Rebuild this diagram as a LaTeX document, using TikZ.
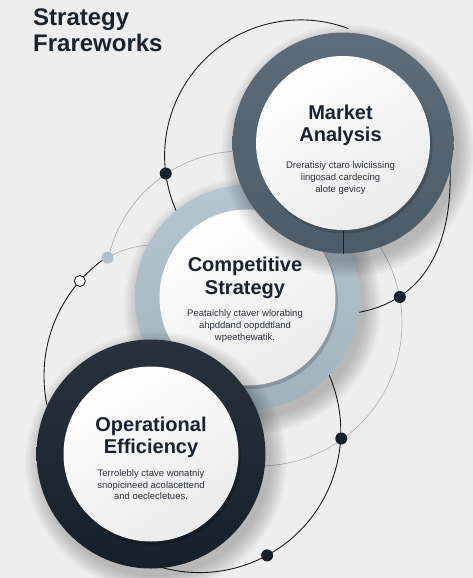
\documentclass[tikz,border=0pt]{standalone}
\usepackage{fontspec}
\setmainfont{Liberation Sans}
\definecolor{bg}{HTML}{EEEEEE}
\definecolor{slate}{HTML}{546573}
\definecolor{steel}{HTML}{AEC2CD}
\definecolor{navy}{HTML}{16202B}
\definecolor{ink}{HTML}{1A2230}
\definecolor{bodyc}{HTML}{2C3139}
\definecolor{thin}{HTML}{A3ABB3}
\definecolor{wire}{HTML}{1C1F24}
\tikzset{
  titletext/.style={anchor=base west, text=ink, font=\fontsize{24}{28}\selectfont\bfseries, inner sep=0pt},
  headtext/.style={anchor=base, text=ink, font=\fontsize{20}{24}\selectfont\bfseries, inner sep=0pt},
  bodytext/.style={anchor=base, text=bodyc, font=\fontsize{9.5}{12}\selectfont, inner sep=0pt},
  darkwire/.style={draw=wire, line width=0.9pt},
  lightwire/.style={draw=thin, line width=0.6pt},
  darkdot/.style={circle, fill=navy, minimum size=12pt, inner sep=0pt},
  bluedot/.style={circle, fill=steel, minimum size=12pt, inner sep=0pt},
  whitedot/.style={circle, fill=white, draw=wire, line width=0.9pt, minimum size=11pt, inner sep=0pt},
}
\newcommand\mydropshadow[3]{%
  \foreach \k in {0,...,9}{\fill[black, opacity=0.022] (#1+5,#2+8) circle[radius=#3+\k*1.8];}}
\newcommand\myringdisc[6]{% x, y, R, r, top colour, bottom colour
  \mydropshadow{#1}{#2}{#3}
  \shade[top color=#5, bottom color=#6] (#1,#2) circle[radius=#3];
  \fill[black, opacity=0.16] (#1+2,#2+3) circle[radius=#4+0.5];
  \shade[top color=white, bottom color=gray!16, shading angle=30] (#1,#2) circle[radius=#4];
}
% orbit arc: centre x, centre y, radius, start angle, end angle (y grows downwards)
\newcommand\myorbit[6]{%
  \draw[#1] plot[domain=#5:#6, samples=80, smooth] ({#2+#4*cos(\x)},{#3+#4*sin(\x)});}
\begin{document}
\begin{tikzpicture}[x=1pt, y=-1pt]
  \fill[bg] (0,0) rectangle (473,578);
  \useasboundingbox (0,0) rectangle (473,578);

  % dot positions and wire end points
  \coordinate (d1) at (165.7,173.5);
  \coordinate (d2) at (107.5,257.7);
  \coordinate (d3) at (79.8,281);
  \coordinate (d4) at (399.8,297);
  \coordinate (d5) at (341.3,438.5);
  \coordinate (d6) at (267.1,555.4);
  \coordinate (bS) at (450,165);  \coordinate (bE) at (355,313);
  \coordinate (c2E) at (150,245);

  % wires (orbits)
  \myorbit{darkwire}{300.6}{155.9}{136}{-204.8}{-69.5}
  \draw[darkwire] (bS) .. controls (453,245) and (425,302) .. (bE);
  \myorbit{lightwire}{242}{288}{137}{192.5}{266.5}
  \draw[lightwire] (d2) .. controls (120,250) and (135,246) .. (c2E);
  \myorbit{darkwire}{188}{376}{144}{168.4}{235.6}
  \myorbit{lightwire}{259}{323}{143}{-33}{89}
  \myorbit{darkwire}{199.5}{431.3}{141.3}{-27}{108}

  % circles
  \myringdisc{247.5}{297.5}{112.5}{88}{steel!92!white}{steel!92!black}
  \myringdisc{343}{143}{110.5}{87}{slate!95!white}{slate!90!black}
  \draw[navy, line width=0.8pt] (343,231) -- (343,253.5);
  \myringdisc{151}{454}{114.5}{87.5}{navy!92!white}{navy}

  % dots
  \node[darkdot] (n1) at (d1) {};
  \node[bluedot] (n2) at (d2) {};
  \node[whitedot] (n3) at (d3) {};
  \node[darkdot] (n4) at (d4) {};
  \node[darkdot] (n5) at (d5) {};
  \node[darkdot] (n6) at (d6) {};

  % title
  \node[titletext] (t1) at (33,26) {Strategy};
  \node[titletext] (t2) at (33,52) {Frareworks};

  % Market Analysis
  \node[headtext] (m1) at (340.5,119) {Market};
  \node[headtext] (m2) at (340.5,141.5) {Analysis};
  \node[bodytext] (m3) at (340.5,168) {Dreratisiy ctaro lwiciissing};
  \node[bodytext] (m4) at (340.5,180.5) {iingosad cardecing};
  \node[bodytext] (m5) at (340.5,192.5) {alote gevicy};

  % Competitive Strategy
  \node[headtext] (c1) at (245,271.5) {Competitive};
  \node[headtext] (c2) at (245,294) {Strategy};
  \node[bodytext] (c3) at (245,316.5) {Peataichly ctaver wlorabing};
  \node[bodytext] (c4) at (245,328.5) {ahpddand oopddtland};
  \node[bodytext] (c5) at (245,340) {wpeethewatik.};

  % Operational Efficiency
  \node[headtext] (o1) at (151,431) {Operational};
  \node[headtext] (o2) at (151,453.5) {Efficiency};
  \node[bodytext] (o3) at (151,476.5) {Terrolebly ctave wonatniy};
  \node[bodytext] (o4) at (151,488.5) {snopicineed acolacettend};
  \node[bodytext] (o5) at (151,499.5) {and oeclecletues.};
\end{tikzpicture}
\end{document}
